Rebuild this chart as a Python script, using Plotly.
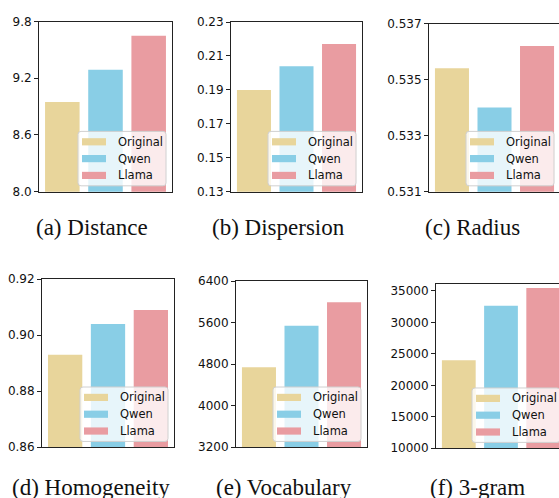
import plotly.graph_objects as go

# ---------------- data ----------------
categories = ["Original", "Qwen", "Llama"]
colors = ["#E8D59B", "#89CEE6", "#E99CA1"]

distance = [8.95, 9.29, 9.65]
dispersion = [0.190, 0.204, 0.217]
radius = [0.5354, 0.5340, 0.5362]
homogeneity = [0.893, 0.904, 0.909]
vocabulary = [4740, 5540, 5990]
trigram = [24000, 32650, 35450]

titles = ["(a) Distance", "(b) Dispersion", "(c) Radius",
          "(d) Homogeneity", "(e) Vocabulary", "(f) 3-gram"]

ranges = [[8.0, 9.8], [0.13, 0.23], [0.531, 0.537],
          [0.86, 0.92], [3200, 6400], [10000, 36100]]
tickvals = [[8.0, 8.6, 9.2, 9.8],
            [0.13, 0.15, 0.17, 0.19, 0.21, 0.23],
            [0.531, 0.533, 0.535, 0.537],
            [0.86, 0.88, 0.90, 0.92],
            [3200, 4000, 4800, 5600, 6400],
            [10000, 15000, 20000, 25000, 30000, 35000]]
tickfmt = [".1f", ".2f", ".3f", ".2f", "d", "d"]

series = [distance, dispersion, radius, homogeneity, vocabulary, trigram]

# ---------------- layout geometry (pixels) ----------------
W, H = 559, 498
# L, R (virtual, may exceed canvas), T, B
boxes = [
    (39, 172, 15, 190),
    (231, 362, 15.5, 190),
    (429, 560, 17, 190),
    (42, 174, 280, 453),
    (236, 367, 282, 453),
    (436, 566, 285, 454),
]
caption_x = [92, 278, 472, 91, 284, 477]
caption_y = [227, 227, 227, 494, 494, 494]

XMIN, XSPAN = -0.54, 3.08


def px(x):
    return x / W


def py(y):
    return 1 - y / H


fig = go.Figure()
shapes = []
annotations = []

for i, (vals, box) in enumerate(zip(series, boxes)):
    L, R, T, B = box
    Rc = min(R, W)
    n = i + 1
    xa = "x" if n == 1 else f"x{n}"
    ya = "y" if n == 1 else f"y{n}"
    fig.add_trace(go.Bar(
        x=list(range(len(categories))), y=vals, width=0.8,
        marker=dict(color=colors, line=dict(width=0)),
        xaxis=xa, yaxis=ya, showlegend=False,
        hovertext=categories,
    ))
    xr = [XMIN, XMIN + (Rc - L) / (R - L) * XSPAN]
    clipped = R > W
    fig.update_layout(**{
        ("xaxis" if n == 1 else f"xaxis{n}"): dict(
            domain=[px(L), px(Rc)], range=xr, anchor=ya,
            showticklabels=False, ticks="", showgrid=False, zeroline=False,
            showline=True, mirror=True, linecolor="#222", linewidth=1,
            fixedrange=True,
        ),
        ("yaxis" if n == 1 else f"yaxis{n}"): dict(
            domain=[py(B), py(T)], range=ranges[i], anchor=xa,
            tickvals=tickvals[i], tickformat=tickfmt[i],
            ticks="outside", ticklen=4, tickwidth=1, tickcolor="#222",
            showgrid=False, zeroline=False,
            showline=True, mirror=(not clipped), linecolor="#222", linewidth=1,
            tickfont=dict(family="DejaVu Sans", size=12, color="#111"),
            fixedrange=True,
        ),
    })

    # legend box (matplotlib style)
    bw, bh = 88, 56
    bx1 = R - 6
    by1 = B - 6
    bx0 = bx1 - bw
    by0 = by1 - bh
    r = 3
    path = (f"M{px(bx0 + r)},{py(by0)} L{px(bx1 - r)},{py(by0)} "
            f"Q{px(bx1)},{py(by0)} {px(bx1)},{py(by0 + r)} "
            f"L{px(bx1)},{py(by1 - r)} "
            f"Q{px(bx1)},{py(by1)} {px(bx1 - r)},{py(by1)} "
            f"L{px(bx0 + r)},{py(by1)} "
            f"Q{px(bx0)},{py(by1)} {px(bx0)},{py(by1 - r)} "
            f"L{px(bx0)},{py(by0 + r)} "
            f"Q{px(bx0)},{py(by0)} {px(bx0 + r)},{py(by0)} Z")
    shapes.append(dict(type="path", path=path, xref="paper", yref="paper",
                       fillcolor="rgba(255,255,255,0.8)",
                       line=dict(color="#d0d0d0", width=1), layer="above"))
    for k, (cat, col) in enumerate(zip(categories, colors)):
        cy = by0 + 10.7 + k * 17.3
        shapes.append(dict(type="rect", xref="paper", yref="paper",
                           x0=px(bx0 + 4), x1=px(bx0 + 28),
                           y0=py(cy - 3.7), y1=py(cy + 3.7),
                           fillcolor=col, line=dict(width=0), layer="above"))
        annotations.append(dict(
            x=px(bx0 + 37.5), y=py(cy), xref="paper", yref="paper",
            text=cat, showarrow=False, xanchor="left", yanchor="middle",
            font=dict(family="DejaVu Sans", size=11.5, color="#111")))

    annotations.append(dict(
        x=px(caption_x[i]), y=py(caption_y[i]), xref="paper", yref="paper",
        text=titles[i], showarrow=False, xanchor="center", yanchor="middle",
        font=dict(family="Liberation Serif", size=23, color="#111")))

fig.update_layout(
    width=W, height=H,
    margin=dict(l=0, r=0, t=0, b=0),
    paper_bgcolor="white", plot_bgcolor="white",
    barmode="overlay",
    shapes=shapes, annotations=annotations,
    showlegend=False,
)

fig.write_html(
    "out.html",
    config={"displayModeBar": False},
    post_script=("document.documentElement.style.margin='0';"
                 "document.body.style.margin='0';"
                 "document.body.style.padding='0';"
                 "document.body.style.overflow='hidden';"),
)
